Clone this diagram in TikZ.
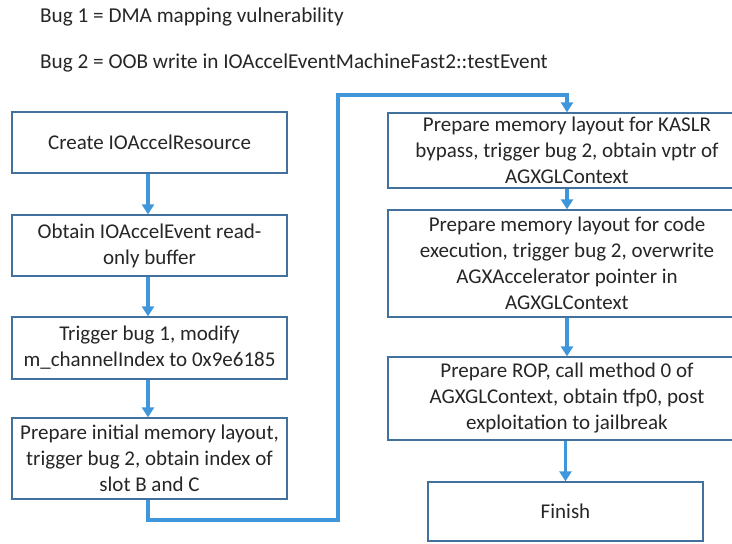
\documentclass[tikz,border=0pt]{standalone}
\usepackage{fontspec}
\setmainfont{Carlito}
\usetikzlibrary{arrows.meta}
\definecolor{boxline}{HTML}{41719C}
\definecolor{arrowblue}{HTML}{3F96DA}
\definecolor{txt}{HTML}{262626}
\begin{document}
\begin{tikzpicture}[x=1pt,y=-1pt,
  flowbox/.style={draw=boxline, line width=1.3pt, fill=white, inner sep=0pt,
    align=center, font=\fontsize{21}{26}\selectfont, text=txt, anchor=center},
  flow/.style={draw=arrowblue, line width=3.6pt, -{Triangle[width=12pt,length=10pt]}},
  note/.style={anchor=west, font=\fontsize{21.2}{24}\selectfont, text=txt, inner sep=0pt}]
\useasboundingbox (0,0) rectangle (732,544);
\clip (0,0) rectangle (732,544);
\node[note] (bug1) at (40,17) {Bug 1 = DMA mapping vulnerability};
\node[note] (bug2) at (40,63) {Bug 2 = OOB write in IOAccelEventMachineFast2::testEvent};
% left column
\node[flowbox, minimum width=275pt, minimum height=61pt] (b1) at (149.5,142.5) {Create IOAccelResource};
\node[flowbox, minimum width=275pt, minimum height=61pt] (b2) at (149.5,245.5) {Obtain IOAccelEvent read-\\only buffer};
\node[flowbox, minimum width=275pt, minimum height=62pt] (b3) at (149.5,348) {Trigger bug 1, modify\\m\_channelIndex to 0x9e6185};
\node[flowbox, minimum width=275pt, minimum height=81pt] (b4) at (149.5,458.5) {Prepare initial memory layout,\\trigger bug 2, obtain index of\\slot B and C};
% right column
\node[flowbox, minimum width=358pt, minimum height=75pt] (b5) at (567,150.5) {Prepare memory layout for KASLR\\bypass, trigger bug 2, obtain vptr of\\AGXGLContext};
\node[flowbox, minimum width=358pt, minimum height=107pt] (b6) at (567,263.5) {Prepare memory layout for code\\execution, trigger bug 2, overwrite\\AGXAccelerator pointer in\\AGXGLContext};
\node[flowbox, minimum width=358pt, minimum height=83pt] (b7) at (567,398.5) {Prepare ROP, call method 0 of\\AGXGLContext, obtain tfp0, post\\exploitation to jailbreak};
\node[flowbox, minimum width=275pt, minimum height=59pt] (b8) at (565.5,511.5) {Finish};
\coordinate (c1) at (148,520);
\coordinate (c2) at (338,520);
\coordinate (c3) at (338,95);
\coordinate (c4) at (567,95);
% connectors
\draw[flow] (b1.south -| c1) -- (b2.north -| c1);
\draw[flow] (b2.south -| c1) -- (b3.north -| c1);
\draw[flow] (b3.south -| c1) -- (b4.north -| c1);
\draw[flow] (b4.south -| c1) -- (c1) -- (c2) -- (c3) -- (c4) -- (b5.north);
\draw[flow] (b5) -- (b6);
\draw[flow] (b6.south) -- (b7.north);
\draw[flow] (b7.south -| b8.north) -- (b8.north);
\end{tikzpicture}
\end{document}
